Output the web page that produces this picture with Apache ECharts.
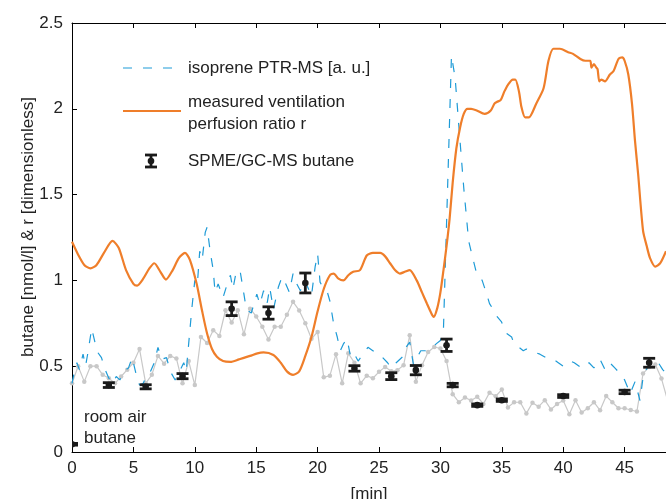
<!DOCTYPE html>
<html>
<head>
<meta charset="utf-8">
<script src="https://cdn.jsdelivr.net/npm/echarts@6/dist/echarts.min.js"></script>
<style>
  html, body { margin: 0; padding: 0; background: #fff; }
  #chart { width: 666px; height: 499px; }
</style>
</head>
<body>
<div id="chart"></div>
<script>
// grey butane trace (PTR-MS), one value every 0.5 min from t = 0
const grayStep = 0.5;
const grayValues = [
  0.40, 0.50, 0.41, 0.50, 0.50, 0.45, 0.43, 0.40, 0.44, 0.48,
  0.52, 0.60, 0.40, 0.45, 0.56, 0.515, 0.56, 0.545, 0.40, 0.53,
  0.39, 0.67, 0.635, 0.71, 0.676, 0.826, 0.754, 0.826, 0.686, 0.835,
  0.79, 0.73, 0.655, 0.73, 0.73, 0.80, 0.875, 0.825, 0.75, 0.66,
  0.70, 0.435, 0.445, 0.57, 0.40, 0.575, 0.52, 0.40, 0.445, 0.43,
  0.467, 0.496, 0.47, 0.477, 0.506, 0.68, 0.41, 0.506, 0.583, 0.612,
  0.603, 0.53, 0.337, 0.29, 0.318, 0.30, 0.322, 0.28, 0.346, 0.325,
  0.364, 0.26, 0.29, 0.29, 0.225, 0.287, 0.264, 0.302, 0.248, 0.28,
  0.30, 0.22, 0.302, 0.23, 0.255, 0.29, 0.243, 0.326, 0.29, 0.255,
  0.255, 0.245, 0.236, 0.457, 0.496, 0.51, 0.428, 0.30
];

// isoprene PTR-MS [a. u.] (dashed blue)
const isoTime = [
  0, 0.2, 0.4, 0.6, 0.9, 1.1, 1.3, 1.6, 1.9, 2.1, 2.4, 2.7, 3.0, 3.3, 3.6, 3.9, 4.2, 4.6, 4.9, 5.2,
  5.5, 5.8, 6.1, 6.4, 6.7, 7.0, 7.3, 7.7, 8.0, 8.4, 8.7, 9.1, 9.3, 9.5, 9.75, 10.0, 10.2, 10.4, 10.6, 10.85,
  11.0, 11.25, 11.5, 11.65, 11.9, 12.1, 12.3, 12.6, 12.9, 13.1, 13.4, 13.7, 14.0, 14.2, 14.6, 15.05, 15.3, 15.6, 15.9, 16.1,
  16.4, 16.8, 17.1, 17.4, 17.7, 18.0, 18.3, 18.6, 18.9, 19.2, 19.5, 19.8, 20.0, 20.2, 20.5, 20.8, 21.0, 21.3, 21.6, 21.85,
  22.1, 22.4, 22.7, 23.0, 23.3, 23.6, 24.1, 24.5, 24.9, 25.3, 25.7, 26.0, 26.4, 27.0, 27.2, 27.5, 27.8, 28.1, 28.4, 28.8,
  29.2, 29.65, 30.0, 30.25, 30.9, 31.2, 31.5, 31.9, 32.3, 32.55, 32.95, 33.4, 33.77, 34.0, 34.3, 34.6, 34.96, 35.4, 35.8, 36.0,
  36.4, 36.75, 37.0, 37.3, 37.7, 38.1, 38.6, 39.2, 39.6, 40.0, 40.3, 40.6, 40.9, 41.3, 41.7, 42.1, 42.5, 43.0, 43.4, 43.8,
  44.2, 44.6, 45.0, 45.45, 45.85, 46.25, 46.55, 46.95, 47.35, 47.75, 48.1, 48.5
];
const isoValue = [
  0.40, 0.47, 0.52, 0.48, 0.57, 0.50, 0.58, 0.72, 0.63, 0.58, 0.55, 0.48, 0.43, 0.40, 0.44, 0.42, 0.47, 0.49, 0.55, 0.46,
  0.39, 0.40, 0.45, 0.47, 0.52, 0.61, 0.54, 0.55, 0.47, 0.42, 0.46, 0.52, 0.47, 0.63, 0.83, 1.00, 0.97, 1.17, 1.12, 1.28,
  1.31, 1.17, 1.06, 0.93, 0.98, 0.94, 0.90, 0.97, 1.03, 0.95, 1.06, 1.05, 0.92, 0.83, 0.81, 0.92, 0.86, 0.94, 0.87, 0.96,
  0.83, 0.96, 1.02, 0.98, 0.93, 1.04, 0.98, 0.94, 1.00, 0.96, 0.91, 1.08, 1.155, 0.99, 0.95, 0.93, 0.88, 0.75, 0.67, 0.59,
  0.63, 0.66, 0.55, 0.57, 0.53, 0.56, 0.61, 0.59, 0.57, 0.55, 0.52, 0.49, 0.52, 0.56, 0.61, 0.64, 0.51, 0.55, 0.59, 0.59,
  0.61, 0.63, 0.65, 0.72, 2.31, 2.18, 1.90, 1.54, 1.23, 1.155, 1.04, 1.00, 0.92, 0.865, 0.83, 0.79, 0.76, 0.69, 0.67, 0.63,
  0.61, 0.59, 0.60, 0.59, 0.58, 0.57, 0.55, 0.54, 0.52, 0.50, 0.51, 0.53, 0.52, 0.50, 0.49, 0.52, 0.49, 0.54, 0.48, 0.52,
  0.49, 0.46, 0.42, 0.34, 0.41, 0.30, 0.46, 0.50, 0.54, 0.52, 0.48, 0.45
];

// measured ventilation perfusion ratio r (orange)
const ratioTime = [
  0, 0.5, 1.0, 1.5, 2.0, 2.6, 3.3, 3.8, 4.4, 5.0, 5.3, 5.8, 6.3, 6.7, 7.2, 7.65, 8.2, 8.7, 9.2, 9.6,
  10.15, 10.6, 11.0, 11.4, 11.8, 12.3, 12.9, 13.6, 14.5, 15.1, 15.6, 16.4, 17.0, 17.5, 18.0, 18.5, 19.0, 19.5, 20.0, 20.5,
  21.0, 21.3, 21.7, 22.1, 22.5, 22.9, 23.45, 24.0, 24.5, 25.1, 25.5, 25.9, 26.3, 26.7, 27.1, 27.5, 28.07, 28.5, 28.9, 29.25,
  29.45, 29.75, 30.0, 30.25, 30.5, 30.75, 31.0, 31.3, 31.6, 31.9, 32.2, 32.5, 32.96, 33.6, 34.1, 34.4, 34.6, 34.9, 35.2, 35.5,
  35.9, 36.1, 36.4, 36.6, 36.9, 37.2, 37.8, 38.4, 38.8, 39.2, 39.74, 40.4, 40.8, 41.4, 41.8, 42.2, 42.3, 42.5, 42.7, 42.8,
  42.94, 43.1, 43.4, 43.8, 44.1, 44.5, 44.8, 45.0, 45.3, 45.6, 45.85, 46.1, 46.5, 46.8, 47.07, 47.5, 47.9, 48.37
];
const ratioValue = [
  1.225, 1.15, 1.09, 1.07, 1.09, 1.16, 1.23, 1.19, 1.06, 0.98, 0.97, 1.01, 1.07, 1.10, 1.05, 1.005, 1.06, 1.13, 1.16, 1.12,
  0.98, 0.82, 0.69, 0.60, 0.555, 0.53, 0.525, 0.54, 0.56, 0.575, 0.58, 0.565, 0.52, 0.47, 0.45, 0.47, 0.56, 0.67, 0.82, 0.95,
  1.03, 1.04, 1.01, 1.00, 1.03, 1.05, 1.06, 1.145, 1.16, 1.16, 1.14, 1.10, 1.06, 1.04, 1.05, 1.06, 1.00, 0.93, 0.865, 0.81,
  0.787, 0.84, 0.93, 1.06, 1.20, 1.36, 1.57, 1.77, 1.89, 1.97, 2.00, 2.00, 1.99, 1.97, 1.99, 2.03, 2.04, 2.05, 2.10, 2.14,
  2.17, 2.17, 2.10, 2.01, 1.95, 1.95, 2.03, 2.12, 2.28, 2.35, 2.35, 2.33, 2.32, 2.29, 2.28, 2.28, 2.24, 2.26, 2.24, 2.23,
  2.16, 2.17, 2.16, 2.20, 2.22, 2.29, 2.30, 2.28, 2.20, 2.03, 1.81, 1.62, 1.29, 1.20, 1.13, 1.08, 1.10, 1.17
];

// SPME/GC-MS butane with error bars (first one: room air butane)
const spmeTime = [0, 3, 6, 9, 13, 16, 19, 23, 26, 28, 30.5, 31, 33, 35, 40, 45, 47];
const spmeValue = [0.045, 0.39, 0.38, 0.442, 0.835, 0.81, 0.985, 0.487, 0.442, 0.477, 0.622, 0.39, 0.273, 0.302, 0.326, 0.35, 0.52];
const spmeErr = [0.005, 0.014, 0.012, 0.015, 0.04, 0.036, 0.058, 0.016, 0.02, 0.027, 0.036, 0.01, 0.007, 0.007, 0.008, 0.01, 0.026];

const xTicks = [0, 5, 10, 15, 20, 25, 30, 35, 40, 45];

const FONT = "'Liberation Sans', Arial, sans-serif";
const TXT = '#222';
const BLUE = '#1E9BD7';
const ORANGE = '#EF7E2A';
const GREY = '#C8C8C8';
const BAR = '#1a1a1a';

const chart = echarts.init(document.getElementById('chart'), null, { renderer: 'canvas' });

const grayData = grayValues.map((v, i) => [i * grayStep, v]);
const isoData = isoTime.map((t, i) => [t, isoValue[i]]);
const ratioData = ratioTime.map((t, i) => [t, ratioValue[i]]);
const spmeData = spmeTime.map((t, i) => [t, spmeValue[i], spmeValue[i] - spmeErr[i], spmeValue[i] + spmeErr[i]]);

// error bar: vertical line + two caps + dot
function renderErrorBar(params, api) {
    const x = api.value(0);
    const c = api.coord([x, api.value(1)]);
    const lo = api.coord([x, api.value(2)]);
    const hi = api.coord([x, api.value(3)]);
    const hw = 6;
    const st = { stroke: BAR, lineWidth: 2.8 };
    return {
        type: 'group',
        children: [
            { type: 'line', shape: { x1: lo[0], y1: lo[1], x2: hi[0], y2: hi[1] }, style: st },
            { type: 'line', shape: { x1: lo[0] - hw, y1: lo[1], x2: lo[0] + hw, y2: lo[1] }, style: st },
            { type: 'line', shape: { x1: hi[0] - hw, y1: hi[1], x2: hi[0] + hw, y2: hi[1] }, style: st },
            { type: 'circle', shape: { cx: c[0], cy: c[1], r: 3.3 }, style: { fill: BAR } }
        ]
    };
}

const xMax = 48.37;
const txt = (t, x, y, extra) => ({
    type: 'text', x: x, y: y,
    style: Object.assign({ text: t, font: '17px ' + FONT, fill: TXT, textVerticalAlign: 'middle' }, extra || {})
});

chart.setOption({
    animation: false,
    backgroundColor: '#fff',
    grid: { left: 72, right: 0, top: 23, bottom: 47, containLabel: false, outerBoundsMode: 'none' },
    xAxis: [{
        type: 'value', min: 0, max: xMax, interval: 5,
        name: '[min]', nameLocation: 'middle', nameGap: 34,
        nameTextStyle: { fontFamily: FONT, fontSize: 17, color: TXT },
        axisLine: { lineStyle: { color: '#000', width: 1 } },
        axisTick: { inside: true, length: 5, lineStyle: { color: '#000' } },
        axisLabel: {
            fontFamily: FONT, fontSize: 17, color: TXT, margin: 8, showMaxLabel: false,
            formatter: v => (xTicks.indexOf(v) >= 0 ? String(v) : '')
        },
        splitLine: { show: false }
    }, {
        type: 'value', min: 0, max: xMax, interval: 5, position: 'top',
        axisLine: { lineStyle: { color: '#000', width: 1 } },
        axisTick: { inside: true, length: 5, lineStyle: { color: '#000' } },
        axisLabel: { show: false },
        splitLine: { show: false }
    }],
    yAxis: {
        type: 'value', min: 0, max: 2.5, interval: 0.5,
        axisLine: { show: true, lineStyle: { color: '#000', width: 1 } },
        axisTick: { show: true, inside: true, length: 5, lineStyle: { color: '#000' } },
        axisLabel: { fontFamily: FONT, fontSize: 17, color: TXT, margin: 9 },
        splitLine: { show: false }
    },
    series: [{
        name: 'butane PTR-MS', type: 'line', data: grayData,
        symbol: 'circle', symbolSize: 4.5, showSymbol: true,
        itemStyle: { color: GREY }, lineStyle: { color: GREY, width: 1.2 },
        z: 1
    }, {
        name: 'isoprene PTR-MS [a. u.]', type: 'line', data: isoData, symbol: 'none',
        lineStyle: { color: BLUE, width: 1.2, type: [9, 11] },
        z: 2
    }, {
        name: 'measured ventilation perfusion ratio r', type: 'line', data: ratioData, symbol: 'none',
        smooth: 0.25,
        lineStyle: { color: ORANGE, width: 2.2 },
        z: 3
    }, {
        name: 'SPME/GC-MS butane', type: 'custom', data: spmeData, clip: true,
        renderItem: renderErrorBar,
        encode: { x: 0, y: [1, 2, 3] },
        z: 4
    }],
    graphic: [
        // y axis title
        {
            type: 'text', x: 28, y: 227, rotation: Math.PI / 2,
            style: { text: 'butane [nmol/l] & r [dimensionless]', font: '17px ' + FONT, fill: TXT,
                     textAlign: 'center', textVerticalAlign: 'middle' }
        },
        // legend
        { type: 'line', shape: { x1: 123, y1: 68, x2: 181, y2: 68 }, style: { stroke: BLUE, lineWidth: 1.2, lineDash: [9, 11] } },
        txt('isoprene PTR-MS [a. u.]', 188, 68),
        { type: 'line', shape: { x1: 123, y1: 111, x2: 181, y2: 111 }, style: { stroke: ORANGE, lineWidth: 2.2 } },
        txt('measured ventilation', 188, 102),
        txt('perfusion ratio r', 188, 124),
        { type: 'line', shape: { x1: 151, y1: 155, x2: 151, y2: 167 }, style: { stroke: BAR, lineWidth: 2.8 } },
        { type: 'line', shape: { x1: 145, y1: 155, x2: 157, y2: 155 }, style: { stroke: BAR, lineWidth: 2.8 } },
        { type: 'line', shape: { x1: 145, y1: 167, x2: 157, y2: 167 }, style: { stroke: BAR, lineWidth: 2.8 } },
        { type: 'circle', shape: { cx: 151, cy: 161, r: 3.3 }, style: { fill: BAR } },
        txt('SPME/GC-MS butane', 188, 161),
        // annotation
        txt('room air', 84, 417),
        txt('butane', 84, 438)
    ]
});

window.addEventListener('resize', () => chart.resize());
</script>
</body>
</html>
